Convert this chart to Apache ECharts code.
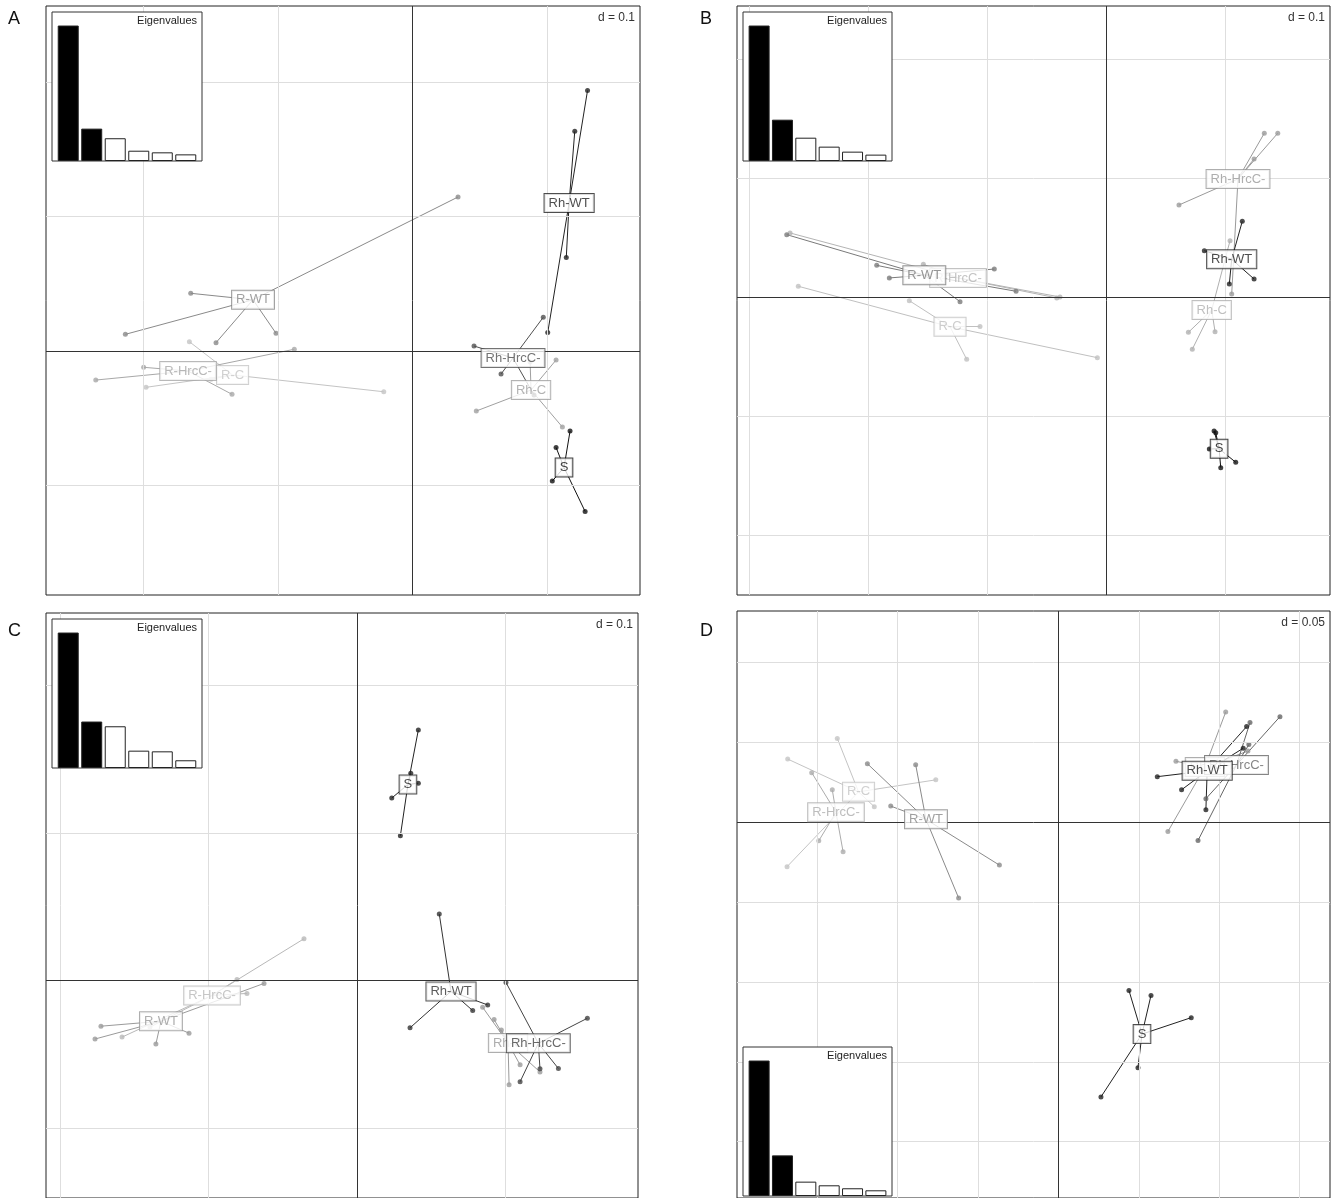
<!DOCTYPE html>
<html><head><meta charset="utf-8">
<script src="https://cdn.jsdelivr.net/npm/echarts@6/dist/echarts.min.js"></script>
<style>html,body{margin:0;padding:0;background:#fff}#c{width:1332px;height:1198px}</style>
</head><body><div id="c"></div>
<script>
// ---------------- DATA ----------------
const groupNames = ['R-C','R-HrcC-','R-WT','Rh-C','Rh-HrcC-','Rh-WT','S'];
const panelLetters = ['A','B','C','D'];
const scaleLabels = ['d = 0.1','d = 0.1','d = 0.1','d = 0.05'];
const gridStep = [0.1,0.1,0.1,0.05];
const xRange = [[-0.2725,0.1691],[-0.3101,0.1882],[-0.2094,0.1892],[-0.1996,0.1688]];
const yRange = [[-0.1814,0.2565],[-0.2504,0.2445],[-0.1475,0.2492],[-0.2352,0.1319]];

const eigenA = [1, 0.239, 0.168, 0.076, 0.064, 0.049];
const eigenB = [1, 0.305, 0.172, 0.106, 0.069, 0.047];
const eigenC = [1, 0.343, 0.308, 0.128, 0.123, 0.057];
const eigenD = [1, 0.300, 0.106, 0.079, 0.057, 0.042];
const eigenKept = 2;

const centersA = [[-0.1338,-0.0178],[-0.1669,-0.0149],[-0.1186,0.0381],[0.0881,-0.0290],[0.0747,-0.0052],[0.1164,0.1100],[0.1126,-0.0866]];
const pointsA = [
 [[-0.1659,0.0069],[-0.0214,-0.0303],[-0.1981,-0.0270],[-0.1498,-0.0210]],
 [[-0.1999,-0.0121],[-0.2355,-0.0216],[-0.0879,0.0013],[-0.1342,-0.0322]],
 [[-0.1649,0.0429],[-0.2135,0.0124],[-0.1461,0.0062],[-0.1015,0.0132],[0.0338,0.1145]],
 [[0.0474,-0.0446],[0.1114,-0.0565],[0.0874,-0.0082],[0.1067,-0.0067]],
 [[0.0457,0.0037],[0.0658,-0.0171],[0.0972,0.0251],[0.0903,-0.0327]],
 [[0.1301,0.1937],[0.1206,0.1633],[0.1143,0.0695],[0.1005,0.0137]],
 [[0.1171,-0.0595],[0.1067,-0.0717],[0.1039,-0.0967],[0.1283,-0.1193]]
];

const centersB = [[-0.1311,-0.0250],[-0.1244,0.0160],[-0.1527,0.0183],[0.0888,-0.0109],[0.1109,0.0992],[0.1056,0.0317],[0.0950,-0.1275]];
const pointsB = [
 [[-0.2586,0.0090],[-0.1653,-0.0031],[-0.1059,-0.0247],[-0.1171,-0.0524],[-0.0073,-0.0510]],
 [[-0.2655,0.0538],[-0.0414,-0.0008],[-0.1535,0.0275],[-0.0387,0.0000]],
 [[-0.2683,0.0524],[-0.1927,0.0266],[-0.1821,0.0160],[-0.1227,-0.0039],[-0.0756,0.0048],[-0.0939,0.0235]],
 [[0.0692,-0.0297],[0.0725,-0.0439],[0.0916,-0.0292],[0.1042,0.0473]],
 [[0.1330,0.1376],[0.1443,0.1376],[0.0613,0.0773],[0.1244,0.1160],[0.1056,0.0025]],
 [[0.0826,0.0389],[0.1145,0.0636],[0.1244,0.0151],[0.1036,0.0109]],
 [[0.0908,-0.1126],[0.0922,-0.1140],[0.0868,-0.1277],[0.1090,-0.1389],[0.0964,-0.1434]]
];

const centersC = [null,[-0.0976,-0.0101],[-0.1320,-0.0276],[0.1017,-0.0424],[0.1221,-0.0426],[0.0633,-0.0074],[0.0343,0.1329]];
const pointsC = [
 null,
 [[-0.0357,0.0283],[-0.0741,-0.0088],[-0.0808,0.0007],[-0.1394,-0.0316],[-0.1582,-0.0384]],
 [[-0.1724,-0.0310],[-0.1764,-0.0397],[-0.1354,-0.0431],[-0.1131,-0.0357],[-0.0626,-0.0020]],
 [[0.0846,-0.0182],[0.0923,-0.0265],[0.0972,-0.0335],[0.1098,-0.0572],[0.1024,-0.0707],[0.1232,-0.0620]],
 [[0.1003,-0.0013],[0.1551,-0.0256],[0.1356,-0.0597],[0.1232,-0.0599],[0.1098,-0.0687]],
 [[0.0554,0.0451],[0.0357,-0.0321],[0.0779,-0.0204],[0.0880,-0.0166]],
 [[0.0413,0.1699],[0.0413,0.1338],[0.0234,0.1237],[0.0292,0.0981],[0.0362,0.1405]]
];

const centersD = [[-0.1241,0.0188],[-0.1381,0.0060],[-0.0822,0.0016],[0.0911,0.0343],[0.1107,0.0356],[0.0925,0.0320],[0.0520,-0.1327]];
const pointsD = [
 [[-0.1681,0.0393],[-0.1373,0.0522],[-0.0761,0.0263],[-0.1685,-0.0280],[-0.1143,0.0095]],
 [[-0.1532,0.0308],[-0.1404,0.0201],[-0.1488,-0.0118],[-0.1337,-0.0186]],
 [[-0.1186,0.0364],[-0.0886,0.0358],[-0.1041,0.0099],[-0.0366,-0.0270],[-0.0619,-0.0476]],
 [[0.1040,0.0687],[0.0731,0.0379],[0.0681,-0.0060],[0.1178,0.0443]],
 [[0.1377,0.0658],[0.1191,0.0621],[0.1184,0.0484],[0.0868,-0.0116],[0.0917,0.0145]],
 [[0.1170,0.0596],[0.1149,0.0461],[0.0615,0.0283],[0.0766,0.0201],[0.0917,0.0076]],
 [[0.0826,-0.1224],[0.0495,-0.1537],[0.0265,-0.1720],[0.0439,-0.1054],[0.0576,-0.1085]]
];

// ---------------- STYLE / LAYOUT ----------------
const colorsA = ['#c4c4c4','#a8a8a8','#8a8a8a','#a0a0a0','#505050','#222222','#111111'];
const colorsB = ['#c0c0c0','#b4b4b4','#7a7a7a','#b0b0b0','#9a9a9a','#222222','#111111'];
const colorsC = ['#c0c0c0','#b8b8b8','#9a9a9a','#9a9a9a','#444444','#333333','#222222'];
const colorsD = ['#c4c4c4','#acacac','#8a8a8a','#9a9a9a','#666666','#222222','#222222'];
const mainBox = [[46,6,594,589],[737,6,593,589],[46,613,592,589],[737,611,593,591]];
const insetBox = [[52,12,150,149],[743,12,149,149],[52,619,150,149],[743,1047,149,149]];
const letterPos = [[8,10],[700,10],[8,622],[700,622]];
const FONT = 'Liberation Sans';

const allCenters = [centersA, centersB, centersC, centersD];
const allPoints = [pointsA, pointsB, pointsC, pointsD];
const allEigen = [eigenA, eigenB, eigenC, eigenD];
const allColors = [colorsA, colorsB, colorsC, colorsD];

const grid = [], xAxis = [], yAxis = [], series = [], title = [];

function ticks(r, s){
  const out = [];
  for (let k = Math.ceil(r[0]/s - 1e-9); k <= Math.floor(r[1]/s + 1e-9); k++) {
    const v = Math.round(k*s*1e6)/1e6;
    if (v !== 0) out.push(v);
  }
  return out;
}

for (let i = 0; i < 4; i++) {
  const b = mainBox[i];
  grid.push({left:b[0], top:b[1], width:b[2], height:b[3], show:true, backgroundColor:'#fff', borderColor:'#222', borderWidth:1, z:0});
  xAxis.push({type:'value', gridIndex:i, min:xRange[i][0], max:xRange[i][1], show:false});
  yAxis.push({type:'value', gridIndex:i, min:yRange[i][0], max:yRange[i][1], show:false});
}
for (let i = 0; i < 4; i++) {
  const b = insetBox[i];
  grid.push({left:b[0], top:b[1], width:b[2], height:b[3], show:true, backgroundColor:'#fff', borderColor:'#333', borderWidth:1, z:20});
  xAxis.push({type:'value', gridIndex:4+i, min:0.31, max:6.69, show:false});
  yAxis.push({type:'value', gridIndex:4+i, min:0, max:Math.max(...allEigen[i])*1.1, show:false});
}

for (let i = 0; i < 4; i++) {
  const gx = ticks(xRange[i], gridStep[i]), gy = ticks(yRange[i], gridStep[i]);
  series.push({type:'scatter', xAxisIndex:i, yAxisIndex:i, data:[[xRange[i][0], yRange[i][0]]], symbolSize:0, z:1, silent:true,
    markLine:{silent:true, symbol:['none','none'], label:{show:false}, animation:false,
      lineStyle:{color:'#dedede', width:1, type:'solid'},
      data: gx.map(v=>({xAxis:v})).concat(gy.map(v=>({yAxis:v})))}});
  series.push({type:'scatter', xAxisIndex:i, yAxisIndex:i, data:[[xRange[i][0], yRange[i][0]]], symbolSize:0, z:2, silent:true,
    markLine:{silent:true, symbol:['none','none'], label:{show:false}, animation:false,
      lineStyle:{color:'#333', width:1, type:'solid'},
      data:[{xAxis:0},{yAxis:0}]}});
  const C = allCenters[i], P = allPoints[i], col = allColors[i];
  groupNames.forEach((name, g) => {
    if (!C[g]) return;
    series.push({type:'lines', coordinateSystem:'cartesian2d', xAxisIndex:i, yAxisIndex:i, z:3, silent:true,
      data: P[g].map(p => ({coords:[C[g], p]})), lineStyle:{color:col[g], width:1, opacity:1}});
    series.push({type:'scatter', xAxisIndex:i, yAxisIndex:i, z:4, silent:true, data:P[g], symbolSize:5,
      itemStyle:{color:col[g]}});
  });
  groupNames.forEach((name, g) => {
    if (!C[g]) return;
    series.push({type:'scatter', xAxisIndex:i, yAxisIndex:i, z:5+g, silent:true, symbolSize:1,
      itemStyle:{color:'#fff'}, data:[{value:C[g], name:name}],
      label:{show:true, position:'inside', formatter:name, color:col[g], fontSize:13, fontFamily:FONT,
        backgroundColor:'#fff', borderColor:col[g], borderWidth:1, padding:[3,4,2,4]}});
  });
  // eigenvalue inset
  const E = allEigen[i];
  series.push({type:'bar', xAxisIndex:4+i, yAxisIndex:4+i, z:21, silent:true, barWidth:21,
    data: E.map((v,k) => ({value:[k+1, v], itemStyle:{color: k < eigenKept ? '#000' : '#fff', borderColor:'#222', borderWidth:1}}))});
  // texts
  const ib = insetBox[i], mb = mainBox[i];
  title.push({text:'Eigenvalues', right:1332-(ib[0]+ib[2]-5), top:ib[1]+3, padding:0, z:30,
    textStyle:{fontSize:11, fontWeight:'normal', fontFamily:FONT, color:'#222'}});
  title.push({text:scaleLabels[i], right:1332-(mb[0]+mb[2]-5), top:mb[1]+6, padding:0, z:30,
    textStyle:{fontSize:12, fontWeight:'normal', fontFamily:FONT, color:'#333'}});
  title.push({text:panelLetters[i], left:letterPos[i][0], top:letterPos[i][1], padding:0, z:30,
    textStyle:{fontSize:18, fontWeight:'normal', fontFamily:FONT, color:'#111'}});
}

const chart = echarts.init(document.getElementById('c'), null, {renderer:'canvas'});
chart.setOption({animation:false, backgroundColor:'#fff', title, grid, xAxis, yAxis, series});
</script></body></html>
